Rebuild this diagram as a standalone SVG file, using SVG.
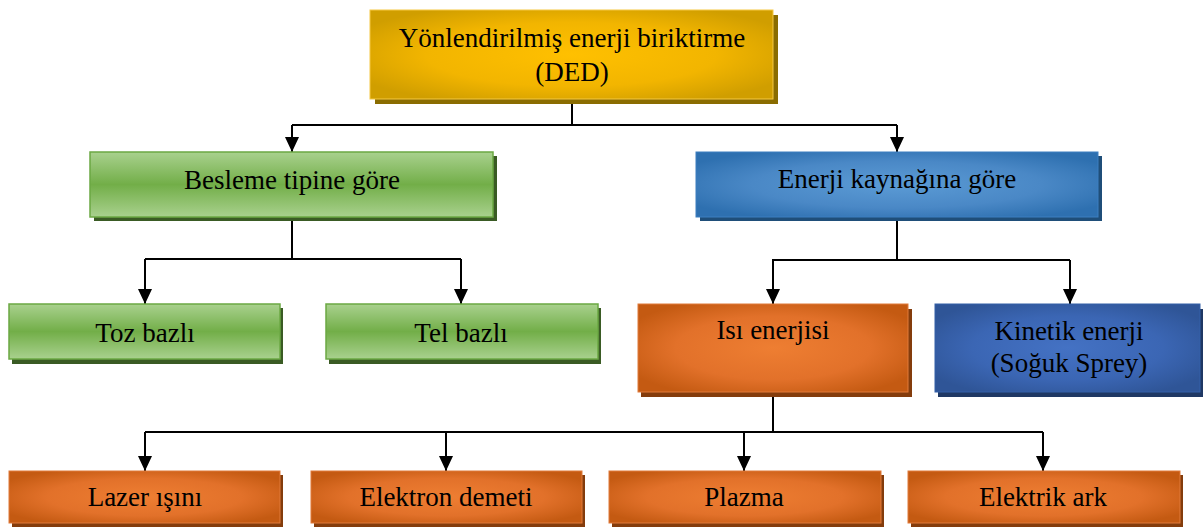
<svg xmlns="http://www.w3.org/2000/svg" width="1203" height="527" viewBox="0 0 1203 527">
<defs>
<radialGradient id="gGold" cx="0.5" cy="0.5" r="0.6">
<stop offset="0" stop-color="#FFC000"/><stop offset="0.6" stop-color="#F2B500"/><stop offset="1" stop-color="#D09E00"/>
</radialGradient>
<linearGradient id="gGreen" x1="0" y1="0" x2="0" y2="1">
<stop offset="0" stop-color="#A9D18E"/><stop offset="0.5" stop-color="#72AE48"/><stop offset="1" stop-color="#A9D18E"/>
</linearGradient>
<radialGradient id="gBlue" cx="0.5" cy="0.5" r="0.6">
<stop offset="0" stop-color="#5B9BD5"/><stop offset="0.6" stop-color="#4A88C6"/><stop offset="1" stop-color="#2E70B0"/>
</radialGradient>
<radialGradient id="gOrange" cx="0.5" cy="0.5" r="0.6">
<stop offset="0" stop-color="#EE7E32"/><stop offset="0.6" stop-color="#E2712A"/><stop offset="1" stop-color="#C45A12"/>
</radialGradient>
<radialGradient id="gNavy" cx="0.5" cy="0.5" r="0.6">
<stop offset="0" stop-color="#4472C4"/><stop offset="0.6" stop-color="#3B66B4"/><stop offset="1" stop-color="#2F5597"/>
</radialGradient>
<marker id="arr" viewBox="0 0 15 14" refX="15" refY="7" markerWidth="15" markerHeight="14" markerUnits="userSpaceOnUse" orient="auto">
<path d="M0,0 L15,7 L0,14 Z" fill="#000"/>
</marker>
<style>
text{font-family:"Liberation Serif","Times New Roman",serif;font-size:27px;fill:#000;text-anchor:middle}
.con{fill:none;stroke:#000;stroke-width:2}
.gold{fill:url(#gGold);stroke:#F5C842;stroke-width:1}
.goldS{fill:#8A6C00}
.green{fill:url(#gGreen);stroke:#6BA843;stroke-width:1.5}
.greenS{fill:#3A5B24}
.blue{fill:url(#gBlue);stroke:#3C7FC0;stroke-width:1}
.blueS{fill:#1F4E79}
.orange{fill:url(#gOrange);stroke:#E07A3A;stroke-width:1}
.orangeS{fill:#843C0C}
.navy{fill:url(#gNavy);stroke:#3560A8;stroke-width:1}
.navyS{fill:#1F3864}
</style>
</defs>

<g id="connectors">
<path class="con" d="M572,99 V125"/>
<path class="con" d="M292,125 H897"/>
<path class="con" d="M292,125 V152" marker-end="url(#arr)"/>
<path class="con" d="M897,125 V152" marker-end="url(#arr)"/>
<path class="con" d="M292,217 V259 M145,259 H461"/>
<path class="con" d="M145,259 V304" marker-end="url(#arr)"/>
<path class="con" d="M461,259 V304" marker-end="url(#arr)"/>
<path class="con" d="M897,217 V260 M772,260 H1070"/>
<path class="con" d="M773,260 V304" marker-end="url(#arr)"/>
<path class="con" d="M1070,260 V304" marker-end="url(#arr)"/>
<path class="con" d="M773,392 V432 M145,432 H1043"/>
<path class="con" d="M145,432 V471" marker-end="url(#arr)"/>
<path class="con" d="M446,432 V471" marker-end="url(#arr)"/>
<path class="con" d="M744,432 V471" marker-end="url(#arr)"/>
<path class="con" d="M1043,432 V471" marker-end="url(#arr)"/>
</g>

<g id="ded">
<rect class="goldS" x="375" y="15" width="403" height="89"/>
<rect class="gold" x="370" y="10" width="403" height="89"/>
<text x="572" y="47">Yönlendirilmiş enerji biriktirme</text>
<text x="572" y="81">(DED)</text>
</g>

<g id="besleme">
<rect class="greenS" x="94" y="156" width="403" height="65"/>
<rect class="green" x="90" y="152" width="403" height="65"/>
<text x="292" y="189">Besleme tipine göre</text>
</g>

<g id="enerji">
<rect class="blueS" x="700" y="156" width="402" height="65"/>
<rect class="blue" x="696" y="152" width="402" height="65"/>
<text x="897" y="188">Enerji kaynağına göre</text>
</g>

<g id="toz">
<rect class="greenS" x="12" y="308" width="271" height="56"/>
<rect class="green" x="9" y="304" width="271" height="55"/>
<text x="145" y="342">Toz bazlı</text>
</g>

<g id="tel">
<rect class="greenS" x="329" y="308" width="272" height="56"/>
<rect class="green" x="326" y="304" width="272" height="55"/>
<text x="461" y="342">Tel bazlı</text>
</g>

<g id="isi">
<rect class="orangeS" x="641" y="309" width="271" height="88"/>
<rect class="orange" x="638" y="304" width="270" height="88"/>
<text x="773" y="339">Isı enerjisi</text>
</g>

<g id="kinetik">
<rect class="navyS" x="938" y="309" width="265" height="88"/>
<rect class="navy" x="935" y="304" width="265" height="88"/>
<text x="1069" y="340">Kinetik enerji</text>
<text x="1069" y="372">(Soğuk Sprey)</text>
</g>

<g id="lazer">
<rect class="orangeS" x="12" y="475" width="271" height="52"/>
<rect class="orange" x="9" y="471" width="271" height="52"/>
<text x="145" y="506">Lazer ışını</text>
</g>

<g id="elektron">
<rect class="orangeS" x="314" y="475" width="271" height="52"/>
<rect class="orange" x="311" y="471" width="271" height="52"/>
<text x="446" y="506">Elektron demeti</text>
</g>

<g id="plazma">
<rect class="orangeS" x="612" y="475" width="272" height="52"/>
<rect class="orange" x="609" y="471" width="272" height="52"/>
<text x="744" y="506">Plazma</text>
</g>

<g id="ark">
<rect class="orangeS" x="911" y="475" width="272" height="52"/>
<rect class="orange" x="908" y="471" width="272" height="52"/>
<text x="1043" y="506">Elektrik ark</text>
</g>
</svg>
